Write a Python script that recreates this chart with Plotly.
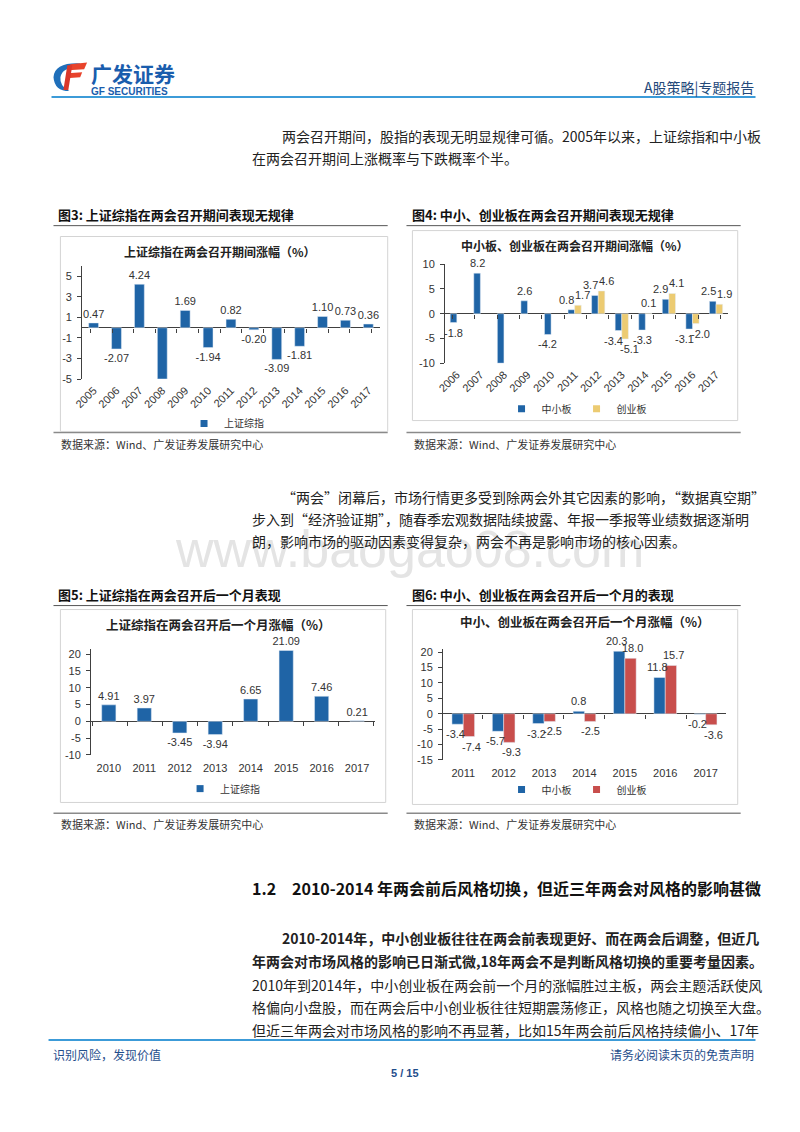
import plotly.graph_objects as go

W, H = 800, 1132
CJK = "Noto Sans CJK SC"
ARIAL = "Arial, Liberation Sans"

BLUE = "#1F64A6"
GOLD = "#ECCB72"
RED = "#C84E4C"

# ---------------- data ----------------
fig3_years = ["2005", "2006", "2007", "2008", "2009", "2010", "2011",
              "2012", "2013", "2014", "2015", "2016", "2017"]
fig3_sh = [0.47, -2.07, 4.24, -5.0, 1.69, -1.94, 0.82, -0.20, -3.09, -1.81, 1.10, 0.73, 0.36]
fig3_unlabeled = ["2008"]          # bar runs off the axis, no label in the source

fig4_years = ["2006", "2007", "2008", "2009", "2010", "2011",
              "2012", "2013", "2014", "2015", "2016", "2017"]
fig4_zxb = [-1.8, 8.2, -10.0, 2.6, -4.2, 0.8, 3.7, -3.4, -3.3, 2.9, -3.1, 2.5]
fig4_cyb = [None, None, None, None, None, 1.7, 4.6, -5.1, 0.1, 4.1, -2.0, 1.9]
fig4_unlabeled = ["2008"]

fig5_years = ["2010", "2011", "2012", "2013", "2014", "2015", "2016", "2017"]
fig5_sh = [4.91, 3.97, -3.45, -3.94, 6.65, 21.09, 7.46, 0.21]

fig6_years = ["2011", "2012", "2013", "2014", "2015", "2016", "2017"]
fig6_zxb = [-3.4, -5.7, -3.2, 0.8, 20.3, 11.8, -0.2]
fig6_cyb = [-7.4, -9.3, -2.5, -2.5, 18.0, 15.7, -3.6]

# ---------------- helpers ----------------
def px(x):
    return x / W


def py(y):
    return 1 - y / H


def labels(years, vals, fmt, skip=()):
    return ["" if (v is None or yr in skip) else format(v, fmt) for yr, v in zip(years, vals)]


LBL = dict(family=ARIAL, size=11, color="#333333")

# plot-area boxes (pixels): x0, x1, top, bottom
P3 = (74, 375, 263, 377)
P4 = (441, 727, 261, 361)
P5 = (83, 370, 650, 757)
P6 = (439, 725, 650, 762)
R3, R4, R5, R6 = [-5, 6], [-10, 10], [-10, 21.5], [-15, 21]
PAIR_W = 0.28

fig = go.Figure()
ann = []


def bar(x, y, width, offset, color, text, xa, ya):
    kw = dict(x=x, y=y, width=width, marker_color=color,
              showlegend=False, xaxis=xa, yaxis=ya, hoverinfo="skip")
    if text is not None:
        kw.update(text=text, textposition="outside", textfont=LBL, cliponaxis=False,
                  constraintext="none")
    if offset is not None:
        kw["offset"] = offset
    fig.add_trace(go.Bar(**kw))


def proxy(x, name, color, legend, xa, ya):
    # legend entry; also registers the categories on the zero-line tick axis
    fig.add_trace(go.Scatter(x=x, y=[None] * len(x), mode="markers", name=name,
                             marker=dict(symbol="square", size=7, color=color),
                             legend=legend, xaxis=xa, yaxis=ya, hoverinfo="skip"))


def pair_labels(years, a_vals, b_vals, xa, ya, box, skip=(), spread=8):
    """Value labels for a two-series grouped chart, drawn above every bar.
    On a category axis annotations take the category's serial index.
    Labels of two same-signed bars are spread apart so they do not collide."""
    cat_px = (box[1] - box[0]) / len(years)
    bar_px = PAIR_W / 2 * cat_px
    for i, (yr, a, b) in enumerate(zip(years, a_vals, b_vals)):
        same_side = a is not None and b is not None and (a >= 0) == (b >= 0)
        for v, sign in ((a, -1), (b, 1)):
            if v is None or yr in skip:
                continue
            ann.append(dict(x=i, y=v, xref=xa, yref=ya, text=format(v, ".1f"),
                            showarrow=False, xanchor="center",
                            yanchor="bottom" if v >= 0 else "top",
                            yshift=2 if v >= 0 else -2,
                            xshift=sign * (spread if same_side else bar_px),
                            font=LBL))


# chart 3
bar(fig3_years, fig3_sh, 0.43, None, BLUE, labels(fig3_years, fig3_sh, ".2f", fig3_unlabeled), "x", "y")
proxy(fig3_years, "上证综指", BLUE, "legend", "x5", "y")

# chart 4
bar(fig4_years, fig4_zxb, PAIR_W, -PAIR_W, BLUE, None, "x2", "y2")
bar(fig4_years, fig4_cyb, PAIR_W, 0.0, GOLD, None, "x2", "y2")
proxy(fig4_years, "中小板", BLUE, "legend2", "x6", "y2")
proxy(fig4_years, "创业板", GOLD, "legend2", "x6", "y2")
pair_labels(fig4_years, fig4_zxb, fig4_cyb, "x2", "y2", P4, fig4_unlabeled)

# chart 5
bar(fig5_years, fig5_sh, 0.4, None, BLUE, labels(fig5_years, fig5_sh, ".2f"), "x3", "y3")
proxy(fig5_years, "上证综指", BLUE, "legend3", "x7", "y3")

# chart 6
bar(fig6_years, fig6_zxb, PAIR_W, -PAIR_W, BLUE, None, "x4", "y4")
bar(fig6_years, fig6_cyb, PAIR_W, 0.0, RED, None, "x4", "y4")
proxy(fig6_years, "中小板", BLUE, "legend4", "x8", "y4")
proxy(fig6_years, "创业板", RED, "legend4", "x8", "y4")
pair_labels(fig6_years, fig6_zxb, fig6_cyb, "x4", "y4", P6)


def xax(box, n, anchor, angle, standoff):
    return dict(domain=[px(box[0]), px(box[1])], anchor=anchor, type="category",
                range=[-0.5, n - 0.5],
                showgrid=False, showline=False, zeroline=False, ticks="",
                tickangle=angle, ticklabelstandoff=standoff,
                tickfont=dict(family=ARIAL, size=11, color="#333333"),
                fixedrange=True)


def zero_ax(over, box, rng):
    # small boundary ticks sitting on the zero line (Excel style category axis)
    top, bottom = box[2], box[3]
    zero_px = top + (rng[1] - 0) / (rng[1] - rng[0]) * (bottom - top)
    return dict(overlaying=over, anchor="free", position=py(zero_px), type="category",
                showgrid=False, showline=False, zeroline=False, showticklabels=False,
                ticks="outside", tickson="boundaries", ticklen=4, tickcolor="#404040",
                fixedrange=True)


def yax(box, rng, tick0, dtick, anchor):
    vals = []
    v = tick0
    while v <= rng[1] + 1e-9:
        vals.append(v)
        v += dtick
    return dict(domain=[py(box[3]), py(box[2])], anchor=anchor, range=rng,
                tickvals=vals, ticktext=[f"{t:g}" for t in vals], showgrid=False,
                zeroline=True, zerolinecolor="#404040", zerolinewidth=1,
                showline=True, linecolor="#404040", linewidth=1,
                ticks="outside", ticklen=4, tickcolor="#404040", ticklabelstandoff=3,
                tickfont=dict(family=ARIAL, size=11, color="#333333"), fixedrange=True)


def leg(x, y):
    return dict(x=px(x), y=py(y), xanchor="center", yanchor="middle", orientation="h",
                font=dict(family=CJK, size=10, color="#333333"),
                bgcolor="rgba(0,0,0,0)", itemsizing="trace")


# ---------------- page decorations ----------------
shapes = []


def line(x0, y0, x1, y1, color, width):
    shapes.append(dict(type="line", xref="paper", yref="paper",
                       x0=px(x0), y0=py(y0), x1=px(x1), y1=py(y1),
                       line=dict(color=color, width=width)))


def rect(x0, y0, x1, y1, color):
    shapes.append(dict(type="rect", xref="paper", yref="paper",
                       x0=px(x0), y0=py(y0), x1=px(x1), y1=py(y1),
                       line=dict(color=color, width=1), fillcolor="rgba(0,0,0,0)"))


def ppath(d, color):
    out = []
    for t in d.split():
        if "," in t:
            a, b = t.split(",")
            out.append(f"{px(float(a)):.5f},{py(float(b)):.5f}")
        else:
            out.append(t)
    shapes.append(dict(type="path", xref="paper", yref="paper", path=" ".join(out),
                       fillcolor=color, line=dict(width=0)))


# logo
ppath("M 72,58 Q 46,57 45,72 Q 46,86 61,86 Q 51,81 52,72 Q 54,62 70,62 Z", "#1F6FBA")
ppath("M 62,59 L 79,57 L 76,64 L 60,65 Z", "#E8432B")
ppath("M 59,68 L 74,67 L 72,72 L 58,73 Z", "#E8432B")
ppath("M 59,60 L 64,60 L 60,85 L 55,85 Z", "#D9372A")

line(43, 92, 755, 92, "#3C9BD8", 2)
for (a, b) in [(45, 383), (402, 740)]:
    line(a, 222, b, 222, "#555555", 1)
    line(a, 606, b, 606, "#555555", 1)
    line(a, 431, b, 431, "#8a8a8a", 1.5)
    line(a, 816, b, 816, "#8a8a8a", 1.5)
rect(52, 233, 383, 430, "#d4d4d4")
rect(408, 227, 737, 419, "#d4d4d4")
rect(52, 610, 381, 805, "#d4d4d4")
rect(408, 610, 737, 807, "#d4d4d4")
line(40, 1045, 755, 1045, "#3C9BD8", 2)


def txt(x, y, s, size=14, color="#222222", anchor="left", family=CJK):
    ann.append(dict(x=px(x), y=py(y), xref="paper", yref="paper", text=s,
                    showarrow=False, xanchor=anchor, yanchor="middle",
                    font=dict(size=size, color=color, family=family)))


# watermark
txt(405, 549, "www.baogao08.com", 52, "#e4e4e4", "center", ARIAL)

txt(81, 68, "<b>广发证券</b>", 21, "#1A5DAD")
txt(81, 86, "<b>GF SECURITIES</b>", 10, "#1A5DAD", "left", ARIAL)
txt(756, 82, "A股策略|专题报告", 14, "#24497a", "right")

txt(274, 131, "两会召开期间，股指的表现无明显规律可循。2005年以来，上证综指和中小板")
txt(244, 154, "在两会召开期间上涨概率与下跌概率个半。")

txt(48, 211, "<b>图3: 上证综指在两会召开期间表现无规律</b>", 13, "#111111")
txt(406, 211, "<b>图4: 中小、创业板在两会召开期间表现无规律</b>", 13, "#111111")
txt(213, 248, "<b>上证综指在两会召开期间涨幅（%）</b>", 12, "#222222", "center")
txt(572, 242, "<b>中小板、创业板在两会召开期间涨幅（%）</b>", 12, "#222222", "center")
txt(51, 443, "数据来源：Wind、广发证券发展研究中心", 11, "#333333")
txt(408, 443, "数据来源：Wind、广发证券发展研究中心", 11, "#333333")

txt(274, 496, "“两会”闭幕后，市场行情更多受到除两会外其它因素的影响，“数据真空期”")
txt(244, 519, "步入到“经济验证期”，随春季宏观数据陆续披露、年报一季报等业绩数据逐渐明")
txt(244, 541, "朗，影响市场的驱动因素变得复杂，两会不再是影响市场的核心因素。")

txt(48, 595, "<b>图5: 上证综指在两会召开后一个月表现</b>", 13, "#111111")
txt(406, 595, "<b>图6: 中小、创业板在两会召开后一个月的表现</b>", 13, "#111111")
txt(212, 625, "<b>上证综指在两会召开后一个月涨幅（%）</b>", 12.5, "#222222", "center")
txt(583, 622, "<b>中小、创业板在两会召开后一个月涨幅（%）</b>", 12.5, "#222222", "center")
txt(51, 827, "数据来源：Wind、广发证券发展研究中心", 11, "#333333")
txt(408, 827, "数据来源：Wind、广发证券发展研究中心", 11, "#333333")

txt(244, 891, "<b>1.2</b>", 16, "#111111")
txt(284, 891, "<b>2010-2014 年两会前后风格切换，但近三年两会对风格的影响甚微</b>", 16, "#111111")

txt(274, 942, "<b>2010-2014年，中小创业板往往在两会前表现更好、而在两会后调整，但近几</b>")
txt(244, 965, "<b>年两会对市场风格的影响已日渐式微,18年两会不是判断风格切换的重要考量因素。</b>")
txt(244, 989, "2010年到2014年，中小创业板在两会前一个月的涨幅胜过主板，两会主题活跃使风")
txt(244, 1012, "格偏向小盘股，而在两会后中小创业板往往短期震荡修正，风格也随之切换至大盘。")
txt(244, 1035, "但近三年两会对市场风格的影响不再显著，比如15年两会前后风格持续偏小、17年")

txt(42, 1060, "识别风险，发现价值", 12, "#1F4E8C")
txt(756, 1060, "请务必阅读末页的免责声明", 12, "#1F4E8C", "right")
txt(400, 1078, "<b>5 / 15</b>", 11, "#1F4E8C", "center", ARIAL)

fig.update_layout(
    width=W, height=H, margin=dict(l=0, r=0, t=0, b=0),
    paper_bgcolor="white", plot_bgcolor="rgba(0,0,0,0)",
    barmode="overlay", hovermode=False,
    xaxis=xax(P3, len(fig3_years), "y", -45, 2),
    yaxis=yax(P3, R3, -5, 2, "x"),
    xaxis2=xax(P4, len(fig4_years), "y2", -45, 2),
    yaxis2=yax(P4, R4, -10, 5, "x2"),
    xaxis3=xax(P5, len(fig5_years), "y3", 0, 5),
    yaxis3=yax(P5, R5, -10, 5, "x3"),
    xaxis4=xax(P6, len(fig6_years), "y4", 0, 5),
    yaxis4=yax(P6, R6, -15, 5, "x4"),
    xaxis5=zero_ax("x", P3, R3),
    xaxis6=zero_ax("x2", P4, R4),
    xaxis7=zero_ax("x3", P5, R5),
    xaxis8=zero_ax("x4", P6, R6),
    legend=leg(220, 422),
    legend2=leg(574, 407),
    legend3=leg(216, 791),
    legend4=leg(574, 792),
    shapes=shapes,
    annotations=ann,
)

fig.write_html("out.html", config={"displayModeBar": False},
               post_script="document.body.style.margin='0';")
